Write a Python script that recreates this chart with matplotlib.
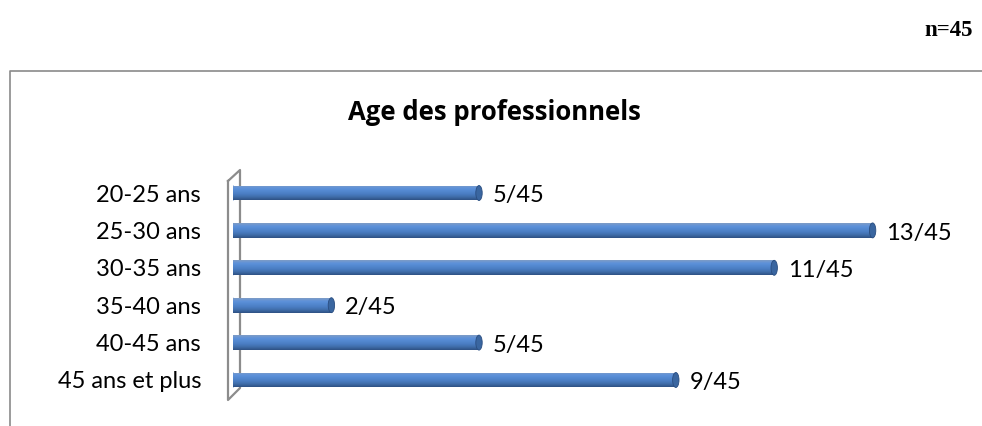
import numpy as np
import matplotlib.pyplot as plt
from matplotlib.colors import LinearSegmentedColormap
from matplotlib.patches import Ellipse
from matplotlib.lines import Line2D

categories = ["20-25 ans", "25-30 ans", "30-35 ans", "35-40 ans", "40-45 ans", "45 ans et plus"]
counts = [5, 13, 11, 2, 5, 9]
total = 45
title = "Age des professionnels"

W, H = 982, 426
plt.rcParams['font.family'] = ['Lato', 'DejaVu Sans']

fig = plt.figure(figsize=(W / 100, H / 100), dpi=100)

def fx(x):
    return x / W

def fy(y):
    return 1 - y / H

ax = fig.add_axes([fx(233), fy(400), (971 - 233) / W, 230 / H])
ax.patch.set_visible(False)

bar_h = 0.4
cyl = LinearSegmentedColormap.from_list(
    'cyl', ['#7E9CC6', '#5E92DA', '#5388D0', '#4A7DC2', '#3F6CA8', '#2E5184'])
grad = np.linspace(0, 1, 60).reshape(-1, 1)

for i, v in enumerate(counts):
    bar = ax.barh(i, v, height=bar_h, color='#4A7DC2', edgecolor='none', zorder=2)[0]
    im = ax.imshow(grad, extent=(0, v, i + bar_h / 2, i - bar_h / 2), cmap=cyl,
                   aspect='auto', zorder=3, interpolation='bilinear')
    im.set_clip_path(bar)
    ax.add_patch(Ellipse((v, i), 0.13, bar_h, facecolor='#3A66A0', edgecolor='#2A4D80',
                         lw=0.6, zorder=4))
    ax.add_patch(Ellipse((0, i), 0.13, bar_h, facecolor='#4F84CC', edgecolor='none', zorder=1))
    ax.annotate(f"{v}/{total}", (v, i), xytext=(10, -2), textcoords='offset points',
                va='center', ha='left', fontsize=17, color='black')

ax.set_xlim(0, 15)
ax.set_ylim(5.535, -0.615)
ax.set_yticks(range(len(categories)), categories, fontsize=17)
ax.set_xticks([])
ax.tick_params(axis='y', length=0, pad=23)
for s in ax.spines.values():
    s.set_visible(False)

# 3d wall behind the bars
wall_x = [228, 240, 240, 228, 228]
wall_y = [181, 170, 388, 400, 181]
fig.add_artist(Line2D([fx(x) for x in wall_x], [fy(y) for y in wall_y],
                      color='#8C8C8C', lw=1.6, zorder=-1))

# chart area border
fig.add_artist(Line2D([fx(10), fx(10), fx(982)], [fy(426), fy(71), fy(71)],
                      color='#8A8A8A', lw=1.2))

fig.text(fx(494), fy(112), title, ha='center', va='center', fontsize=18.5, fontweight='bold',
         family='Open Sans')
fig.text(fx(973), fy(30), "n=45", ha='right', va='center', fontsize=16.5, fontweight='bold',
         family='Liberation Serif')

fig.savefig('out.png', dpi=100)
